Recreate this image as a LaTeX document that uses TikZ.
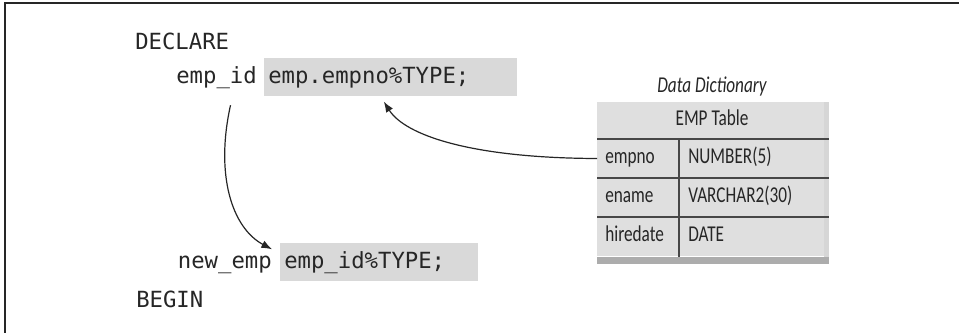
\documentclass[tikz,border=0pt]{standalone}
\usepackage{fontspec}
\newfontfamily\codefont{DejaVu Sans Mono}
\newfontfamily\tabfont[FakeStretch=0.76]{Carlito}
\usetikzlibrary{arrows.meta, positioning, calc}
\definecolor{ink}{HTML}{262626}
\definecolor{boxgray}{HTML}{D9D9D9}

\begin{document}
\begin{tikzpicture}[x=0.75pt, y=-0.75pt,
                % Define styles
                code/.style={font=\fontsize{16.7}{20}\codefont, text=ink, inner sep=0pt, text height=12.5pt, text depth=3.5pt},
                typebox/.style={code, fill=boxgray, inner xsep=3pt, minimum height=28.5pt, align=left, anchor=north west},
                cell/.style={font=\fontsize{17}{20}\tabfont, text=ink, inner sep=0pt, text height=11pt, text depth=3pt},
                ddlabel/.style={cell, font=\fontsize{17}{20}\tabfont\itshape},
                rule/.style={draw=ink!85, line width=1.1pt},
                link/.style={draw=ink, -{Latex[length=8pt, width=6pt]}, line width=0.9pt}
            ]
            \useasboundingbox (0,0) rectangle (959,333);

            % --- Frame ---
            \draw[line width=1.5pt, ink] (959,3) -- (5,3) -- (5,333);

            % --- Declarations ---
            \node[code, anchor=base west] (declare) at (135,49) {DECLARE};
            \node[typebox, text width=183.75pt] (empnotype) at (264,58) {emp.empno\%TYPE;};
            \node[code, left=5.25pt of empnotype] (empid) {emp\_id};
            \node[typebox, text width=142.5pt] (newtype) at (280,243) {emp\_id\%TYPE;};
            \node[code, left=6pt of newtype] (newemp) {new\_emp};
            \node[code, anchor=base west] (begin) at (136,307) {BEGIN};

            % --- Data dictionary table ---
            \node[ddlabel] (dd) at (712,87) {Data Dictionary};
            \node[fill=gray!25, minimum width=173.25pt, minimum height=115.5pt, inner sep=0pt, anchor=north west] (emptable) at (597,102) {};
            \fill[gray!65] (emptable.south west) rectangle ($(emptable.south east)+(0,7)$);
            \fill[gray!32] ($(emptable.north east)+(-5,0)$) rectangle (emptable.south east);

            \node[cell] (hdr) at (712,120) {EMP Table};
            \node[cell, anchor=west] (empno) at (605,158.5) {empno};
            \node[cell, anchor=west] (ename) at (605,197.5) {ename};
            \node[cell, anchor=west] (hiredate) at (605,236) {hiredate};
            \node[cell, anchor=west] (numtype) at (688,158.5) {NUMBER(5)};
            \node[cell, anchor=west] (vartype) at (688,197.5) {VARCHAR2(30)};
            \node[cell, anchor=west] (datetype) at (688,236) {DATE};

            \draw[rule] (emptable.west |- 0,139) -- (emptable.east |- 0,139);
            \draw[rule] (emptable.west |- 0,178) -- (emptable.east |- 0,178);
            \draw[rule] (emptable.west |- 0,217) -- (emptable.east |- 0,217);
            \draw[rule] (679,139) -- (emptable.south -| 679,0);

            % --- Edges ---
            \draw[link] (emptable.west |- empno) .. controls (470,158) and (405,135) .. ($(empnotype.south)+(-7,5)$);
            \draw[link] ($(empid.south)+(14,17)$) .. controls (215,175) and (232,228) .. ($(newtype.west)+(-8,-13)$);

        \end{tikzpicture}
\end{document}
